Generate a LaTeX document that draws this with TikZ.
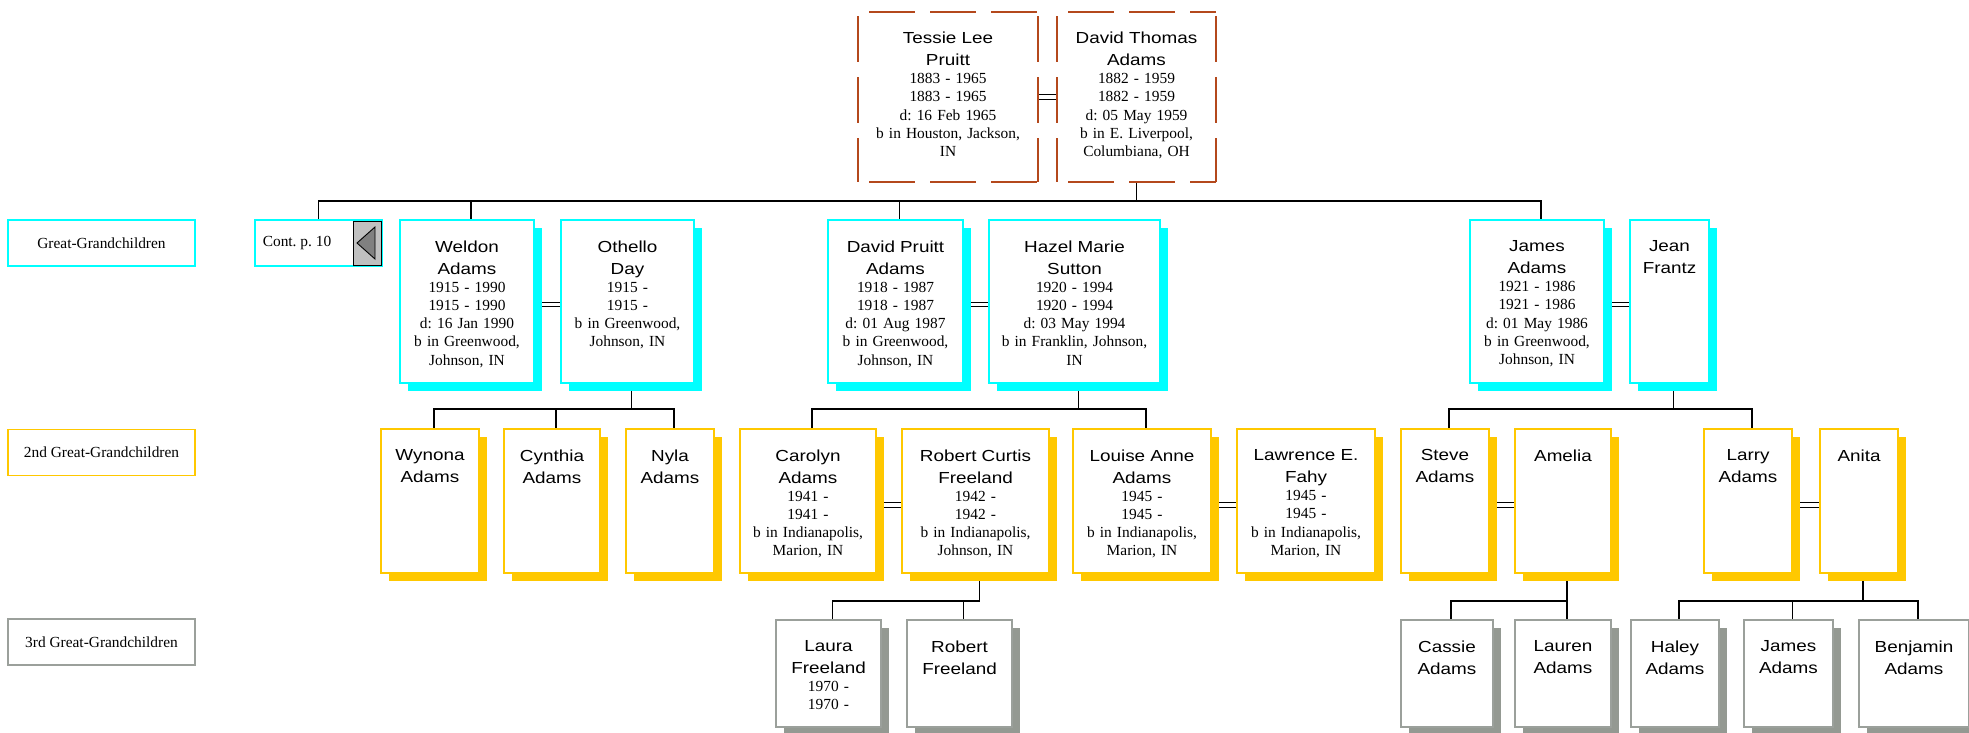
\documentclass[tikz,border=0pt]{standalone}
\usepackage{fontspec}
\setmainfont{Liberation Serif}
\newfontfamily\nmfam[FakeStretch=1.18]{Liberation Sans}
\usetikzlibrary{calc}
\pgfdeclarelayer{back}
\pgfdeclarelayer{bg}
\pgfsetlayers{back,bg,main}
\frenchspacing
\definecolor{cyanc}{RGB}{0,255,255}
\definecolor{goldc}{RGB}{255,200,0}
\definecolor{grayb}{RGB}{155,160,155}
\definecolor{grays}{RGB}{148,153,146}
\definecolor{brownc}{RGB}{180,72,28}
\definecolor{trifill}{RGB}{192,192,192}
\definecolor{tridark}{RGB}{128,128,128}
\newcommand\nmf{\nmfam\fontsize{16}{22}\selectfont}
\newcommand\dtf{\rmfamily\fontsize{15.4}{18.2}\selectfont\frenchspacing}
\tikzset{
 conn/.style={line width=1.8pt, draw=black},
 dbl/.style={double, line width=1.2pt, double distance=3.4pt, draw=black},
 rect/.style={rectangle, inner sep=0pt, outer sep=0pt},
 cybx/.style={draw=cyanc, fill=white, line width=1.8pt},
 cysh/.style={fill=cyanc},
 ylbx/.style={draw=goldc, fill=white, line width=1.4pt},
 ylsh/.style={fill=goldc},
 grbx/.style={draw=grayb, fill=white, line width=1.6pt},
 grsh/.style={fill=grays},
 dashbx/.style={rect, fill=white},
 dashline/.style={draw=brownc, line width=1.3pt, dash pattern=on 46pt off 15pt},
 txt/.style={align=center, inner sep=0pt, outer sep=0pt, font=\dtf},
 legend/.style={rect, fill=white, line width=1.8pt, minimum width=187pt, minimum height=46pt, font=\dtf},
}
% id, kind, x1, y1, x2, y2, text
\newcommand\person[7]{%
 \pgfmathsetmacro\pw{#5-#3}\pgfmathsetmacro\ph{#6-#4}%
 \pgfmathsetmacro\pcx{(#3+#5)/2}\pgfmathsetmacro\pcy{(#4+#6)/2}%
 \pgfmathsetmacro\ptw{#5-#3-4}%
 \fill[#2sh] (#3+8,#4+8) rectangle (#5+8,#6+8);
 \node[rect,#2bx,minimum width=\pw pt,minimum height=\ph pt] (#1) at (\pcx,\pcy) {};
 \node[txt,text width=\ptw pt,anchor=north] (#1-t) at ([yshift=-20.5pt]#1.north) {#7\par};
 \coordinate (#1-top) at ($(#1.north)+(4,0)$);
 \coordinate (#1-bot) at ($(#1.south)+(4,8)$);
}
\newcommand\ancestor[6]{%
 \pgfmathsetmacro\pw{#4-#2}\pgfmathsetmacro\ph{#5-#3}%
 \pgfmathsetmacro\pcx{(#2+#4)/2}\pgfmathsetmacro\pcy{(#3+#5)/2}%
 \pgfmathsetmacro\ptw{#4-#2-4}%
 \node[dashbx,minimum width=\pw pt,minimum height=\ph pt] (#1) at (\pcx,\pcy) {};
 \draw[dashline, dash phase=50pt] (#1.north west) -- (#1.north east);
 \draw[dashline, dash phase=50pt] (#1.south west) -- (#1.south east);
 \draw[dashline, dash phase=57pt] (#1.north west) -- (#1.south west);
 \draw[dashline, dash phase=57pt] (#1.north east) -- (#1.south east);
 \node[txt,text width=\ptw pt,anchor=north] (#1-t) at ([yshift=-20pt]#1.north) {#6\par};
}
\begin{document}
\begin{tikzpicture}[x=1pt,y=-1pt]
\clip (0,0) rectangle (1969,732);
\begin{pgfonlayer}{back}
\fill[white] (0,0) rectangle (1969,732);
\end{pgfonlayer}

% legend
\node[legend, draw=cyanc] (lg1) at (101.5,243) {Great-Grandchildren};
\node[legend, draw=goldc] (lg2) at (101.5,452.5) {2nd Great-Grandchildren};
\node[legend, draw=grayb] (lg3) at (101.5,642) {3rd Great-Grandchildren};

% top couple
\ancestor{tessie}{858}{12}{1038}{182}{\nmf Tessie Lee\\Pruitt\par\dtf 1883 - 1965\\1883 - 1965\\d: 16 Feb 1965\\b in Houston, Jackson,\\IN}
\ancestor{davidt}{1057}{12}{1216}{182}{\nmf David Thomas\\Adams\par\dtf 1882 - 1959\\1882 - 1959\\d: 05 May 1959\\b in E. Liverpool,\\Columbiana, OH}

% continuation box
\node[rect, draw=cyanc, fill=white, line width=1.8pt, minimum width=127pt, minimum height=46pt] (cont) at (318.5,243) {};
\node[txt] (cont-t) at (297,243) {Cont. p. 10};
\node[rect, draw=black, fill=trifill, line width=0.9pt, minimum width=28pt, minimum height=44pt] (tri) at (367,243) {};
\filldraw[fill=tridark, draw=black, line width=0.9pt] ($(tri.center)+(-10,0)$) -- ($(tri.center)+(8,-16)$) -- ($(tri.center)+(8,16)$) -- cycle;

% row 1
\person{weldon}{cy}{400}{220}{534}{383}{\nmf Weldon\\Adams\par\dtf 1915 - 1990\\1915 - 1990\\d: 16 Jan 1990\\b in Greenwood,\\Johnson, IN}
\person{othello}{cy}{561}{220}{694}{383}{\nmf Othello\\Day\par\dtf 1915 -\\1915 -\\b in Greenwood,\\Johnson, IN}
\person{pruitt}{cy}{828}{220}{963}{383}{\nmf David Pruitt\\Adams\par\dtf 1918 - 1987\\1918 - 1987\\d: 01 Aug 1987\\b in Greenwood,\\Johnson, IN}
\person{sutton}{cy}{989}{220}{1160}{383}{\nmf Hazel Marie\\Sutton\par\dtf 1920 - 1994\\1920 - 1994\\d: 03 May 1994\\b in Franklin, Johnson,\\IN}
\person{james}{cy}{1470}{220}{1604}{383}{\nmf James\\Adams\par\dtf 1921 - 1986\\1921 - 1986\\d: 01 May 1986\\b in Greenwood,\\Johnson, IN}
\person{jean}{cy}{1630}{220}{1709}{383}{\nmf Jean\\Frantz}

% row 2
\person{wynona}{yl}{381}{429}{479}{573}{\nmf Wynona\\Adams}
\person{cynthia}{yl}{504}{429}{600}{573}{\nmf Cynthia\\Adams}
\person{nyla}{yl}{626}{429}{714}{573}{\nmf Nyla\\Adams}
\person{carolyn}{yl}{740}{429}{876}{573}{\nmf Carolyn\\Adams\par\dtf 1941 -\\1941 -\\b in Indianapolis,\\Marion, IN}
\person{robertc}{yl}{902}{429}{1049}{573}{\nmf Robert Curtis\\Freeland\par\dtf 1942 -\\1942 -\\b in Indianapolis,\\Johnson, IN}
\person{louise}{yl}{1073}{429}{1211}{573}{\nmf Louise Anne\\Adams\par\dtf 1945 -\\1945 -\\b in Indianapolis,\\Marion, IN}
\person{lawrence}{yl}{1237}{429}{1375}{573}{\nmf Lawrence E.\\Fahy\par\dtf 1945 -\\1945 -\\b in Indianapolis,\\Marion, IN}
\person{steve}{yl}{1401}{429}{1489}{573}{\nmf Steve\\Adams}
\person{amelia}{yl}{1515}{429}{1611}{573}{\nmf Amelia}
\person{larry}{yl}{1704}{429}{1792}{573}{\nmf Larry\\Adams}
\person{anita}{yl}{1820}{429}{1898}{573}{\nmf Anita}

% row 3
\person{laura}{gr}{776}{620}{881}{727}{\nmf Laura\\Freeland\par\dtf 1970 -\\1970 -}
\person{robertf}{gr}{907}{620}{1012}{727}{\nmf Robert\\Freeland}
\person{cassie}{gr}{1401}{620}{1493}{727}{\nmf Cassie\\Adams}
\person{lauren}{gr}{1515}{620}{1611}{727}{\nmf Lauren\\Adams}
\person{haley}{gr}{1631}{620}{1719}{727}{\nmf Haley\\Adams}
\person{jamesb}{gr}{1744}{620}{1833}{727}{\nmf James\\Adams}
\person{benjamin}{gr}{1859}{620}{1969}{727}{\nmf Benjamin\\Adams}

\coordinate (y1) at (0,201);
\coordinate (y2) at (0,409);
\coordinate (y3) at (0,601);

\begin{pgfonlayer}{bg}
% spouses
\draw[dbl] (tessie.east) -- (davidt.west);
\draw[dbl] ($(weldon.east)+(0,3)$) -- ($(othello.west)+(0,3)$);
\draw[dbl] ($(pruitt.east)+(0,3)$) -- ($(sutton.west)+(0,3)$);
\draw[dbl] ($(james.east)+(0,3)$) -- ($(jean.west)+(0,3)$);
\draw[dbl] ($(carolyn.east)+(0,4)$) -- ($(robertc.west)+(0,4)$);
\draw[dbl] ($(louise.east)+(0,4)$) -- ($(lawrence.west)+(0,4)$);
\draw[dbl] ($(steve.east)+(0,4)$) -- ($(amelia.west)+(0,4)$);
\draw[dbl] ($(larry.east)+(0,4)$) -- ($(anita.west)+(0,4)$);
% generation 1
\draw[conn] (davidt.south) -- (davidt.south|-y1);
\draw[conn] (cont.north) -- (cont.north|-y1) -- (james-top|-y1) -- (james-top);
\draw[conn] (weldon-top) -- (weldon-top|-y1);
\draw[conn] (pruitt-top) -- (pruitt-top|-y1);
% generation 2
\draw[conn] (othello-bot) -- (othello-bot|-y2);
\draw[conn] (wynona-top) -- (wynona-top|-y2) -- (nyla-top|-y2) -- (nyla-top);
\draw[conn] (cynthia-top) -- (cynthia-top|-y2);
\draw[conn] (sutton-bot) -- (sutton-bot|-y2);
\draw[conn] (carolyn-top) -- (carolyn-top|-y2) -- (louise-top|-y2) -- (louise-top);
\draw[conn] (jean-bot) -- (jean-bot|-y2);
\draw[conn] (steve-top) -- (steve-top|-y2) -- (larry-top|-y2) -- (larry-top);
% generation 3
\draw[conn] (laura-top) -- (laura-top|-y3) -- (robertc-bot|-y3) -- (robertc-bot);
\draw[conn] (robertf-top) -- (robertf-top|-y3);
\draw[conn] (cassie-top) -- (cassie-top|-y3) -- (amelia-bot|-y3) -- (amelia-bot);
\draw[conn] (lauren-top) -- (lauren-top|-y3);
\draw[conn] (haley-top) -- (haley-top|-y3) -- (benjamin-top|-y3) -- (benjamin-top);
\draw[conn] (jamesb-top) -- (jamesb-top|-y3);
\draw[conn] (anita-bot) -- (anita-bot|-y3);
\end{pgfonlayer}
\end{tikzpicture}
\end{document}
